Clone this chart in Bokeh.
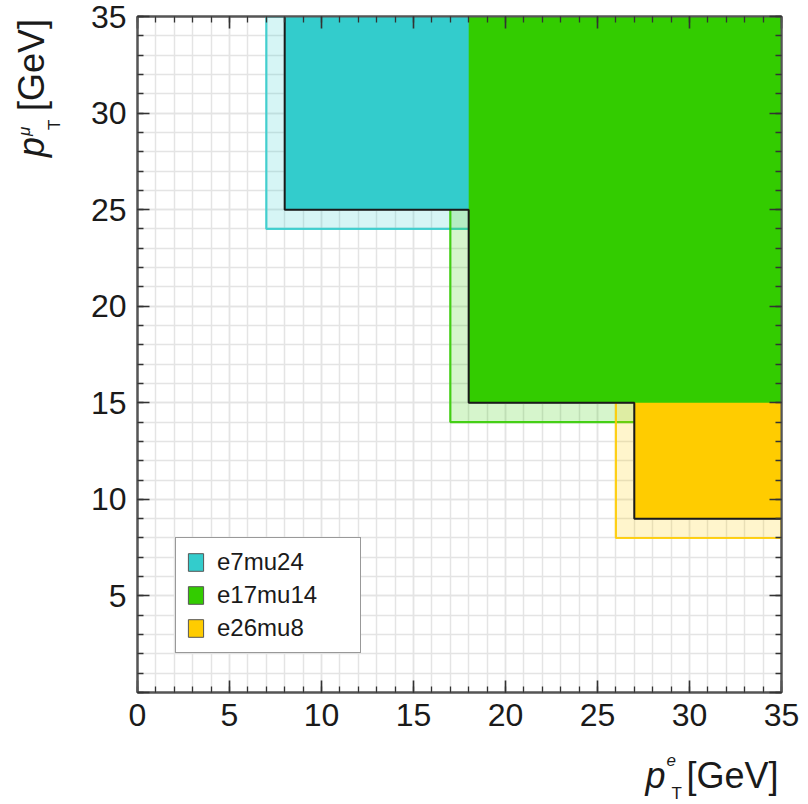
import math
from bokeh.plotting import figure
from bokeh.layouts import column
from bokeh.models import (LinearAxis, SingleIntervalTicker, Range1d, Legend,
                          LegendItem, Label, Div)
from bokeh.embed import file_html
from bokeh.resources import INLINE

# ---------------- data ----------------
triggers = ["e7mu24", "e17mu14", "e26mu8"]
pt_e_threshold = [7, 17, 26]       # GeV
pt_mu_threshold = [24, 14, 8]      # GeV
plateau_offset = [1, 1, 1]         # fully efficient region starts threshold + 1 GeV
colors = ["#33cccc", "#33cc00", "#ffcc00"]
axis_min, axis_max = 0, 35
tick_step, minor_step = 5, 1
x_label = ("p", "e", "T", "[GeV]")
y_label = ("p", "\u03bc", "T", "[GeV]")
draw_order = [0, 2, 1]             # e17mu14 drawn on top
caption = "Trigger sets for the combination"

FONT = "Liberation Sans"
W, H = 808, 804
FL, FR, FT, FB = 137, 27, 16, 112   # borders around the plot frame

p = figure(width=W, height=H,
           x_range=Range1d(axis_min, axis_max), y_range=Range1d(axis_min, axis_max),
           output_backend="svg", toolbar_location=None,
           min_border_left=FL, min_border_right=FR,
           min_border_top=FT, min_border_bottom=FB)
p.background_fill_color = "white"
p.border_fill_color = "white"
p.outline_line_color = "#555555"
p.outline_line_width = 2

bottom_axis = p.below[0]
left_axis = p.left[0]

for g in (p.xgrid[0], p.ygrid[0]):
    g.ticker = SingleIntervalTicker(interval=tick_step, num_minor_ticks=tick_step // minor_step)
    g.grid_line_color = "#e4e4e4"
    g.grid_line_width = 1.5
    g.minor_grid_line_color = "#e4e4e4"
    g.minor_grid_line_width = 1.5

top_axis = LinearAxis()
right_axis = LinearAxis()
p.add_layout(top_axis, "above")
p.add_layout(right_axis, "right")

for ax in (bottom_axis, left_axis, top_axis, right_axis):
    ax.ticker = SingleIntervalTicker(interval=tick_step, num_minor_ticks=tick_step // minor_step)
    ax.major_tick_in = 12
    ax.major_tick_out = 0
    ax.minor_tick_in = 6
    ax.minor_tick_out = 0
    ax.major_tick_line_color = "#333333"
    ax.major_tick_line_width = 1.6
    ax.minor_tick_line_color = "#333333"
    ax.minor_tick_line_width = 1.3
    ax.axis_line_color = "#555555"
    ax.axis_line_width = 2
    ax.major_label_text_font = FONT
    ax.major_label_text_font_size = "32px"
    ax.major_label_text_color = "#1a1a1a"
    ax.major_label_standoff = 11
left_axis.major_label_overrides = {0: ""}
for ax in (top_axis, right_axis):
    ax.major_label_text_font_size = "0px"
    ax.major_label_standoff = 0

n = len(triggers)

# light (turn-on) regions
for i in range(n):
    p.quad(left=[pt_e_threshold[i]], right=[axis_max],
           bottom=[pt_mu_threshold[i]], top=[axis_max],
           fill_color=colors[i], fill_alpha=0.2,
           line_color=colors[i], line_width=2.2, line_alpha=0.9)

# solid (plateau) regions; an outlined copy underneath serves the legend swatch
swatch = {}
for i in draw_order:
    kw = dict(left=[pt_e_threshold[i] + plateau_offset[i]], right=[axis_max],
              bottom=[pt_mu_threshold[i] + plateau_offset[i]], top=[axis_max])
    swatch[i] = p.quad(**kw, fill_color=colors[i], line_color="#555555",
                       line_width=1, level="underlay")
    p.quad(**kw, fill_color=colors[i], line_color=None)

# black boundary of the combined plateau region
stair_x, stair_y = [], []
for i in range(n):
    xe = pt_e_threshold[i] + plateau_offset[i]
    ym = pt_mu_threshold[i] + plateau_offset[i]
    stair_x.append(xe)
    stair_y.append(axis_max if i == 0 else pt_mu_threshold[i - 1] + plateau_offset[i - 1])
    stair_x.append(xe)
    stair_y.append(ym)
stair_x.append(axis_max)
stair_y.append(pt_mu_threshold[-1] + plateau_offset[-1])
p.line(stair_x, stair_y, line_color="#1a1a1a", line_width=2)

items = [LegendItem(label=triggers[i], renderers=[swatch[i]]) for i in range(n)]
legend = Legend(items=items, location=(38, 39), orientation="vertical",
                padding=10, spacing=5, margin=0,
                glyph_width=19, glyph_height=22, label_standoff=12,
                label_width=133, label_height=24,
                label_text_font=FONT, label_text_font_size="24px",
                label_text_color="#1a1a1a",
                border_line_color="#333333", border_line_width=1,
                background_fill_color="white", background_fill_alpha=1)
p.add_layout(legend)

# ---- transparent overlay for the x title and caption ----
# (its frame is aligned with the main frame horizontally, so x maps 1:1 to page pixels)
ov = figure(width=W, height=H, x_range=Range1d(FL, W - FR), y_range=Range1d(0, H),
            x_axis_type=None, y_axis_type=None,
            output_backend="svg", toolbar_location=None, min_border=0,
            margin=(-H, 0, 0, 0))
ov.background_fill_color = None
ov.border_fill_color = None
ov.outline_line_color = None


def add(text, x, y, size, italic=False, font=FONT, color="#1a1a1a"):
    # x, y: pixel position measured from the top-left corner of the page
    ov.add_layout(Label(x=x, y=H - y, text=text,
                        text_font=font, text_font_size=size,
                        text_font_style="italic" if italic else "normal",
                        text_color=color,
                        text_align="left", text_baseline="alphabetic"))


add(x_label[0], 645, 775, "36px", italic=True)
add(x_label[1], 666, 759, "17px", italic=True)
add(x_label[2], 671, 793, "17px")
add(x_label[3], 686, 775, "36px")

# caption below the figure (cut by the window edge)
add(caption, 273, 819, "26px", font="Open Sans", color="#1b3a6b")

# ---- y title: rotated HTML text laid over the left margin ----
def vspan(text, left, top, size, italic=False):
    style = ("position:absolute;left:%.1fpx;top:%.1fpx;transform-origin:0 0;"
             "transform:rotate(-90deg);white-space:nowrap;font-family:'%s';"
             "font-size:%dpx;line-height:%dpx;color:#1a1a1a;font-style:%s;")
    return '<span style="%s">%s</span>' % (
        style % (left, top, FONT, size, size, "italic" if italic else "normal"), text)

# baseline offsets inside a line box (Liberation Sans, line-height = font size)
spans = [
    vspan(y_label[0], 44 - 30.5, 157, 36, italic=True),
    vspan(y_label[1], 30 - 14.4, 136, 17, italic=True),
    vspan(y_label[2], 60 - 14.4, 130, 17),
    vspan(y_label[3], 44 - 30.5, 111, 36),
]
ytitle = Div(text='<div style="position:relative;width:%dpx;height:%dpx;">%s</div>'
             % (W, H, "".join(spans)),
             width=W, height=H, margin=(-H, 0, 0, 0))

layout = column(p, ov, ytitle, spacing=0)
open("out.html", "w").write(file_html(layout, INLINE))
